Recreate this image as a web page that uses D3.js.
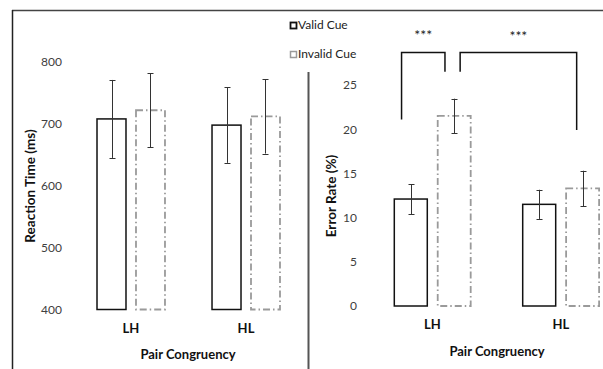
<!DOCTYPE html>
<html><head><meta charset="utf-8">
<script src="https://cdn.jsdelivr.net/npm/d3@7"></script>
<style>body{margin:0;background:#fff}svg{display:block;font-family:Lato,"Open Sans",sans-serif}</style>
</head><body><svg id="c" width="603" height="369"></svg>
<script>
const categories = ["LH", "HL"];
const series = ["Valid Cue", "Invalid Cue"];
const rtValues = [[708, 722], [698, 712]];
const rtErrors = [[63, 60], [61, 60]];
const rtTicks = [400, 500, 600, 700, 800];
const erValues = [[12.1, 21.5], [11.5, 13.3]];
const erErrors = [[1.7, 1.95], [1.65, 2.0]];
const erTicks = [0, 5, 10, 15, 20, 25];
const sigLabels = ["***", "***"];

const svg = d3.select("#c");
const dash = "7,3,1.5,3";
const gray = "#9a9a9a";

// frame
svg.append("line").attr("x1",12).attr("x2",603).attr("y1",10.5).attr("y2",10.5).attr("stroke","#444").attr("stroke-width",1.5);
svg.append("line").attr("x1",12.5).attr("x2",12.5).attr("y1",10).attr("y2",369).attr("stroke","#222").attr("stroke-width",1.5);
svg.append("line").attr("x1",308.5).attr("x2",308.5).attr("y1",72).attr("y2",369).attr("stroke","#555").attr("stroke-width",2);

function panel(o){
  const y = d3.scaleLinear().domain(o.domain).range(o.yrange);
  const x0 = d3.scaleBand().domain(categories).range(o.xrange).paddingInner(o.pin).paddingOuter(0.5);
  const x1 = d3.scaleBand().domain(series).range([0, x0.bandwidth()]).paddingInner(o.sub);
  const g = svg.append("g");
  const ax = d3.axisLeft(y).tickValues(o.ticks).tickSize(0).tickPadding(0);
  const ag = g.append("g").attr("transform",`translate(${o.tickX},0)`).call(ax);
  ag.select(".domain").remove();
  ag.selectAll("text").attr("font-size",12).attr("fill","#404040").attr("font-family","Lato,sans-serif");
  categories.forEach((c,i)=>{
    series.forEach((s,j)=>{
      const v = o.values[i][j], e = o.errors[i][j];
      const bx = x0(c)+x1(s), bw = x1.bandwidth();
      g.append("rect").attr("x",bx).attr("y",y(v)).attr("width",bw).attr("height",y(o.domain[0])-y(v))
        .attr("fill","#fff").attr("stroke", j===0?"#111":gray).attr("stroke-width", j===0?1.5:1.8)
        .attr("stroke-dasharray", j===0?null:dash);
      const cx = Math.round(bx+bw/2)+0.5;
      g.append("line").attr("x1",cx).attr("x2",cx).attr("y1",y(v+e)).attr("y2",y(v-e)).attr("stroke","#333").attr("stroke-width",1);
      [v+e, v-e].forEach(t=>g.append("line").attr("x1",cx-3).attr("x2",cx+3).attr("y1",Math.round(y(t))+0.5).attr("y2",Math.round(y(t))+0.5).attr("stroke","#333").attr("stroke-width",1));
    });
    g.append("text").attr("x",x0(c)+x0.bandwidth()/2).attr("y",o.catY).attr("text-anchor","middle")
      .attr("font-size",13).attr("font-weight","bold").attr("fill","#111").text(c);
  });
  g.append("text").attr("x",o.titleX).attr("y",o.titleY).attr("text-anchor","middle").attr("font-size",13).attr("font-weight","bold").attr("fill","#111").text("Pair Congruency");
  g.append("text").attr("transform",`translate(${o.ytX},${o.ytY}) rotate(-90)`).attr("text-anchor","middle").attr("font-size",13.5).attr("font-weight","bold").attr("fill","#111").text(o.ytitle);
  return {x0,x1,y};
}

panel({domain:[400,800], yrange:[309.5,62], xrange:[39.5,337.5], pin:0.409, sub:0.2564, ticks:rtTicks,
  values:rtValues, errors:rtErrors, tickX:62, catY:333, titleX:188, titleY:359, ytX:35, ytY:186, ytitle:"Reaction Time (ms)"});

const p2 = panel({domain:[0,25], yrange:[306,85], xrange:[330.1,663.3], pin:0.405, sub:0.24, ticks:erTicks,
  values:erValues, errors:erErrors, tickX:357, catY:329, titleX:497, titleY:356, ytX:336, ytY:196, ytitle:"Error Rate (%)"});

// significance brackets
const bw2 = p2.x1.bandwidth();
const xa = p2.x0("LH")+p2.x1("Valid Cue")+bw2*0.22;
const xb = p2.x0("LH")+p2.x1("Invalid Cue")+bw2*0.22;
const xc = p2.x0("LH")+p2.x1("Invalid Cue")+bw2*0.68;
const xd = p2.x0("HL")+p2.x1("Invalid Cue")+bw2*0.32;
const yTop = 52.5;
const bpath = d3.path();
bpath.moveTo(xa, p2.y(21.1)); bpath.lineTo(xa,yTop); bpath.lineTo(xb,yTop); bpath.lineTo(xb,p2.y(26.5));
bpath.moveTo(xc, p2.y(26.5)); bpath.lineTo(xc,yTop); bpath.lineTo(xd,yTop); bpath.lineTo(xd,p2.y(19.9));
svg.append("path").attr("d",bpath.toString()).attr("fill","none").attr("stroke","#111").attr("stroke-width",1.5);
svg.append("text").attr("x",(xa+xb)/2).attr("y",40).attr("text-anchor","middle").attr("font-size",14).attr("fill","#222").text(sigLabels[0]);
svg.append("text").attr("x",(xc+xd)/2).attr("y",41).attr("text-anchor","middle").attr("font-size",14).attr("fill","#222").text(sigLabels[1]);

// legend
const leg = svg.append("g");
series.forEach((s,i)=>{
  const ly = 22 + i*29;
  leg.append("rect").attr("x",290.5).attr("y",ly+0.5).attr("width",6).attr("height",6).attr("fill","#fff")
    .attr("stroke", i===0?"#111":gray).attr("stroke-width", i===0?1.8:1.5);
  leg.append("text").attr("x",298).attr("y",ly+6.5).attr("font-size",12).attr("fill","#222").text(s);
});
</script></body></html>
